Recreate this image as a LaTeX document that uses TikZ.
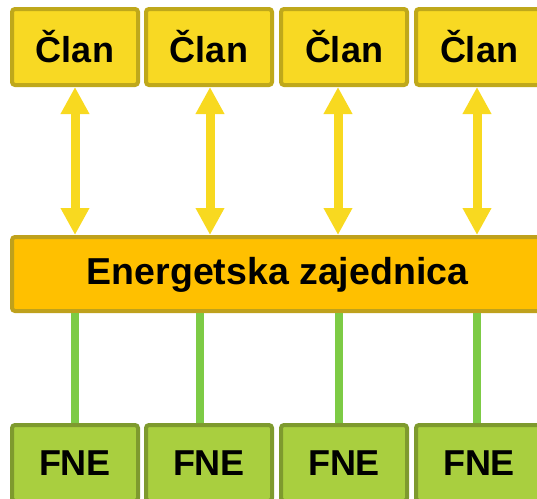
\documentclass[tikz,border=0pt]{standalone}
\usepackage{fontspec}
\setmainfont{Liberation Sans}
\usetikzlibrary{arrows.meta}
\definecolor{clanfill}{HTML}{F8D923}
\definecolor{clanline}{HTML}{BFA81B}
\definecolor{ezfill}{HTML}{FFC000}
\definecolor{ezline}{HTML}{BFA11C}
\definecolor{fnefill}{HTML}{A9CF3F}
\definecolor{fneline}{HTML}{7E9A2E}
\definecolor{arrowyellow}{HTML}{F8D920}
\definecolor{linkgreen}{HTML}{7DCB45}
\begin{document}
\begin{tikzpicture}[x=1pt,y=1pt,
  boxbase/.style={rectangle, rounded corners=3pt, line width=4pt, inner sep=0pt,
    font=\fontsize{36}{40}\selectfont\bfseries, text=black},
  clanbox/.style={boxbase, draw=clanline, fill=clanfill, minimum width=126pt, minimum height=76pt},
  fnebox/.style={boxbase, draw=fneline, fill=fnefill, minimum width=126pt, minimum height=76pt},
  ezbox/.style={boxbase, draw=ezline, fill=ezfill, minimum width=531pt, minimum height=74pt},
  dblarrow/.style={draw=arrowyellow, line width=9pt,
    arrows={Triangle[width=27pt,length=27pt,fill=arrowyellow]-Triangle[width=27pt,length=27pt,fill=arrowyellow]}},
  greenlink/.style={draw=linkgreen, line width=8pt}]
\useasboundingbox (0,0) rectangle (537,-498);
\begin{scope}
\clip (0,0) rectangle (537,-498);
% top boxes
\node[clanbox] (c1) at (75,-47) {Član};
\node[clanbox] (c2) at (209,-47) {Član};
\node[clanbox] (c3) at (344,-47) {Član};
\node[clanbox] (c4) at (479,-47) {Član};
% middle box
\node[ezbox] (ez) at (277.5,-274) {};
\node[font=\fontsize{37.5}{40}\selectfont\bfseries] (eztext) at (277.5,-275) {Energetska zajednica};
% bottom boxes
\node[fnebox] (f1) at (75,-463) {FNE};
\node[fnebox] (f2) at (209,-463) {FNE};
\node[fnebox] (f3) at (344,-463) {FNE};
\node[fnebox] (f4) at (479,-463) {FNE};
% arrow anchor points
\coordinate (a1) at (c1.south);
\coordinate (a2) at ([xshift=1pt]c2.south);
\coordinate (a3) at ([xshift=-6pt]c3.south);
\coordinate (a4) at ([xshift=-2pt]c4.south);
\coordinate (g1) at (f1.north);
\coordinate (g2) at ([xshift=-9pt]f2.north);
\coordinate (g3) at ([xshift=-5pt]f3.north);
\coordinate (g4) at ([xshift=-2pt]f4.north);
% arrows
\foreach \i in {1,2,3,4} {
  \draw[dblarrow] (a\i) -- (ez.north -| a\i);
  \draw[greenlink] (ez.south -| g\i) -- (g\i);
}
\end{scope}
\end{tikzpicture}
\end{document}
